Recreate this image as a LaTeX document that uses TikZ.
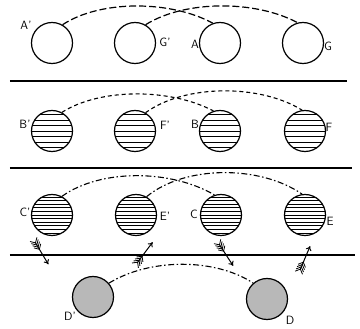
\documentclass[tikz,border=0pt]{standalone}
\usetikzlibrary{arrows.meta}
\begin{document}
\begin{tikzpicture}[x=1pt,y=-1pt,
  ball/.style={circle,draw,line width=1.2pt,minimum size=41pt,inner sep=0pt},
  lbl/.style={font=\sffamily\fontsize{12}{12}\selectfont,inner sep=0pt},
  rule/.style={line width=1.5pt},
  arcA/.style={line width=1.2pt,dash pattern=on 7pt off 3pt},
  arcB/.style={line width=1.1pt,dash pattern=on 4pt off 3pt},
  arcC/.style={line width=1.1pt,dash pattern=on 6pt off 2.5pt on 1.5pt off 2.5pt},
  hatch/.style={line width=0.9pt},
  feather/.pic={
    \draw[line width=1pt,-{To[length=4.5pt,width=6pt]}] (0,0) -- (26,0);
    \foreach \s in {1,3.5,6,8.5}{
      \draw[line width=0.8pt] (\s,0) -- (\s-4,4);
      \draw[line width=0.8pt] (\s,0) -- (\s-4,-4);}
  }]
\useasboundingbox (0,0) rectangle (360,329);

% horizontal rules
\coordinate (r1a) at (10,81);  \coordinate (r1b) at (347,81);
\coordinate (r2a) at (10,168); \coordinate (r2b) at (352,168);
\coordinate (r3a) at (10,255); \coordinate (r3b) at (355,255);
\draw[rule] (r1a) -- (r1b);
\draw[rule] (r2a) -- (r2b);
\draw[rule] (r3a) -- (r3b);

% row 1
\node[ball] (A1) at (52,43) {};
\node[ball] (G1) at (135,43) {};
\node[ball] (A)  at (220,43) {};
\node[ball] (G)  at (303,43) {};
\node[lbl] (lA1) at (26,25) {A'};
\node[lbl] (lG1) at (165,42) {G'};
\node[lbl] (lA)  at (195,44) {A};
\node[lbl] (lG)  at (328,46) {G};
\draw[arcA] (A1.60) .. controls (100,0) and (170,0) .. (A.110);
\draw[arcA] (G1.60) .. controls (185,0) and (255,0) .. (G.105);

% row 2
\foreach \n/\x in {B1/52,F1/135,B/220,F/305}{
  \begin{scope}
    \clip (\x,131) circle[radius=20.5];
    \foreach \d in {-16.5,-11,...,17}
      \draw[hatch] (\x-22,131+\d) -- (\x+22,131+\d);
  \end{scope}
  \node[ball] (\n) at (\x,131) {};
}
\node[lbl] (lB1) at (25,124) {B'};
\node[lbl] (lF1) at (165,125) {F'};
\node[lbl] (lB)  at (195,124) {B};
\node[lbl] (lF)  at (329,127) {F};
\draw[arcB] (B1.62) .. controls (100,88) and (170,88) .. (B.108);
\draw[arcB] (F1.60) .. controls (185,84) and (260,84) .. (F.98);

% row 3
\foreach \n/\x in {C1/52,E1/136,C/221,E/305}{
  \begin{scope}
    \clip (\x,215) circle[radius=20.5];
    \foreach \d in {-18,-14.4,...,19}
      \draw[line width=0.7pt] (\x-22,215+\d) -- (\x+22,215+\d);
  \end{scope}
  \node[ball] (\n) at (\x,215) {};
}
\node[lbl] (lC1) at (25,212) {C'};
\node[lbl] (lE1) at (165,216) {E'};
\node[lbl] (lC)  at (194,214) {C};
\node[lbl] (lE)  at (330,221) {E};
\draw[arcC] (C1.62) .. controls (100,169) and (170,169) .. (C.108);
\draw[arcC] (E1.60) .. controls (185,165) and (260,165) .. (E.98);

% row 4
\node[ball,fill=black!28] (D1) at (93,297) {};
\node[ball,fill=black!28] (D)  at (267,299) {};
\node[lbl] (lD1) at (70,316) {D'};
\node[lbl] (lD)  at (290,320) {D};
\draw[arcC] (D1.41) .. controls (150,258) and (215,258) .. (D.131);

% feathered arrows
\pic[rotate=-59] at (35,242) {feather};
\pic[rotate=53]  at (137,263) {feather};
\pic[rotate=-57] at (219,244) {feather};
\pic[rotate=67]  at (300,270) {feather};
\end{tikzpicture}
\end{document}
